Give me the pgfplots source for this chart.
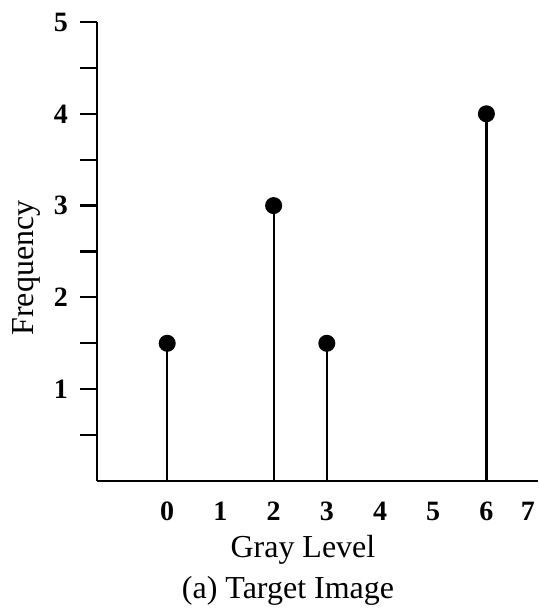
\documentclass[border=0pt]{standalone}
\usepackage{fontspec}
\setmainfont{Liberation Serif}
\usepackage{pgfplots}
\pgfplotsset{compat=1.18}
\begin{document}
\begin{tikzpicture}
\begin{axis}[
    name=ax,
    scale only axis, width=220.5pt, height=229.5pt,
    xmin=-1.32, xmax=6.97, ymin=0, ymax=5,
    axis x line=bottom, axis y line=left,
    axis line style={-, line width=1.3pt},
    xtick={0,1,2,3,4,5,6,6.78},
    xticklabels={0,1,2,3,4,5,6,7},
    x tick style={draw=none},
    major x tick style={draw=none},
    ytick={1,2,3,4,5},
    minor ytick={0.5,1.5,2.5,3.5,4.5},
    tick align=outside,
    major tick length=8.5pt, minor tick length=8.5pt,
    y tick style={line width=1.1pt, black},
    tick label style={font=\fontsize{14}{16}\selectfont\bfseries},
    /pgf/number format/assume math mode=true,
    xticklabel style={anchor=center, yshift=-6.5pt},
    yticklabel style={xshift=-2.5pt},
    xticklabel pos=lower,
    xlabel={Gray Level}, ylabel={Frequency},
    label style={font=\fontsize{16}{19}\selectfont},
    xlabel style={at={(axis description cs:0.467,-0.150)}, anchor=center},
    ylabel style={at={(axis description cs:-0.159,0.464)}, anchor=center, rotate=0},
]
\addplot+[ycomb, black, line width=1.1pt, mark=*, mark size=3.7pt,
    mark options={fill=black}] coordinates {(0,1.5) (2,3) (3,1.5) (6,4)};
\end{axis}
\node[font=\fontsize{16}{19}\selectfont, anchor=center]
    at ([shift={(95.5pt,-55pt)}]ax.south west) {(a) Target Image};
\pgfresetboundingbox
\path ([shift={(-48.5pt,-64.5pt)}]ax.south west) rectangle ([shift={(220.5pt,240.5pt)}]ax.south west);
\end{tikzpicture}
\end{document}
